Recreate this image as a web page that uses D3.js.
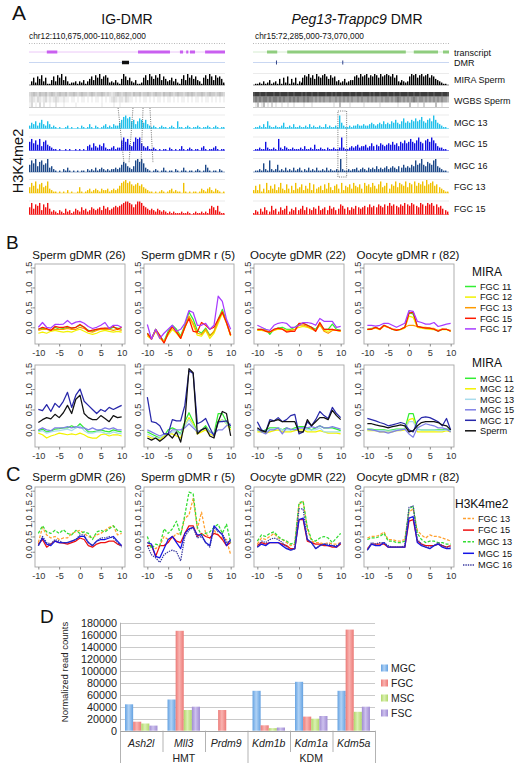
<!DOCTYPE html>
<html><head><meta charset="utf-8">
<script src="https://cdn.jsdelivr.net/npm/d3@7/dist/d3.min.js"></script>
<style>body{margin:0;background:#fff}svg{display:block}</style>
</head><body>
<svg id="c" width="522" height="769"></svg>
<script>
// ================= DATA =================
// Panel A : genome browser tracks (spans in kb, histogram heights 0-9 per bin)
const igSpanKb = 187, pegSpanKb = 785;
const igTranscripts = [[17,27],[104,134.5],[144,147],[150,152],[153.6,158.4],[168,187]];
const pegTranscripts = [[56,97],[137,612],[644,741],[761,785]];
const igDMR = [[88.7,95.4]];
const pegDMR = [[92,93.5],[357.5,359]];
const trackNames = ["MIRA Sperm","WGBS Sperm","MGC 13","MGC 15","MGC 16","FGC 13","FGC 15"];

const igMira  = "0 3 6 2 7 5 8 3 6 1 1 4 7 3 8 6 9 4 7 3 1 2 2 3 1 3 2 4 1 3 5 7 4 8 6 9 5 7 8 6 2 3 2 4 2 1 5 9 7 4 6 3 2 4 1 1 2 6 8 4 9 7 5 8 6 9 4 7 5 3 4 6 3 5 2 1 5 8 4 9 6 8 5 7 4 3 1 6 8 5 9 7 4 8 6 7 5 2";
const igMgc13 = "2 4 3 5 2 4 6 3 2 5 3 1 2 1 0 1 0 0 1 2 0 1 0 0 1 0 2 1 0 1 3 1 0 2 1 0 1 2 3 1 2 1 3 2 2 4 6 8 9 7 8 5 6 3 5 7 6 4 6 3 2 1 2 1 0 1 2 1 1 0 1 2 1 0 5 1 1 0 1 2 1 0 1 1 2 1 0 1 1 2 1 0 1 2 1 0 1 1";
const igMgc15 = "6 8 5 7 4 8 3 6 7 4 3 2 1 1 0 1 0 0 1 0 1 0 0 1 0 1 0 1 0 3 4 2 5 3 2 4 3 5 2 1 1 2 3 1 2 2 7 9 6 8 4 3 6 9 8 9 5 3 2 3 1 1 2 1 0 1 0 1 1 0 2 1 0 1 0 1 3 1 0 1 2 1 0 1 1 0 2 3 1 0 1 1 2 3 1 0 1 1";
const igMgc16 = "5 8 6 9 4 7 8 5 6 9 3 4 2 1 0 1 0 2 1 3 1 0 1 0 1 0 1 1 0 2 1 2 1 3 1 2 3 2 1 2 1 2 2 3 2 3 5 7 6 4 3 2 4 8 9 7 9 6 3 2 1 0 1 2 1 0 1 3 1 0 1 1 0 2 1 0 1 3 1 0 1 1 0 1 2 1 0 1 5 3 1 0 1 1 0 2 1 0";
const igFgc13 = "4 7 5 8 3 6 7 4 5 8 3 2 1 1 0 1 0 1 0 2 0 1 0 0 1 4 1 0 1 2 3 1 2 3 2 1 3 2 2 3 1 2 3 2 3 5 7 8 9 7 8 6 5 6 7 5 6 4 3 2 1 1 0 1 0 1 2 1 0 1 2 3 1 2 1 1 0 7 1 0 1 0 1 1 0 1 3 2 1 3 4 2 1 3 2 1 0 1";
const igFgc15 = "5 8 4 7 6 8 3 7 5 8 4 2 3 2 1 3 2 1 4 2 3 1 2 4 3 2 5 3 4 2 3 5 4 3 4 5 3 6 4 5 3 4 5 6 5 6 7 8 9 9 8 7 5 7 9 9 8 6 5 4 3 4 3 2 4 3 2 3 2 1 2 1 2 1 1 1 2 1 1 2 1 0 1 2 1 1 2 1 2 1 4 6 5 3 6 2 1 1";
const igWgbsTop = "3 4 5 4 3 5 4 4 5 3 4 5 4 3 4 5 4 4 5 3 4 4 5 4 3 4 5 4 4 3 4 5 4 3 4 4 5 4 3 4 3 2 3 4 5 4 3 4 5 4 4 3 5 4 4 5 3 4 4 5 4 3 4 5 4 4 3 5 4 4 5 4 3 4 5 4 4 3 4 5 4 5 4 3 4 4 5 4 3 4 5 4 4 3 4 5 4 3";
const igWgbsMid = "2 3 2 1 3 2 1 2 3 1 2 1 2 3 2 1 1 2 1 1 0 1 1 0 1 0 1 1 0 1 0 1 0 1 1 0 1 0 1 0 1 2 3 2 1 2 2 1 3 2 1 1 0 1 0 1 0 1 1 0 1 0 1 0 1 1 0 1 0 1 1 0 1 0 1 0 1 1 0 1 0 1 0 1 1 0 1 0 1 1 0 1 0 1 0 1 0 1";
const igWgbsLow = "1 3 0 1 0 3 0 2 0 0 1 0 0 2 0 0 0 1 0 0 0 0 0 1 0 0 0 0 0 0 0 0 0 0 0 0 1 0 0 0 0 0 1 0 0 1 0 0 0 0 0 0 0 0 0 0 0 0 0 0 0 0 0 0 0 0 0 0 0 0 0 0 0 0 0 0 0 0 0 0 0 0 0 0 0 0 0 0 0 0 0 0 0 0 0 0 0 0";

const pegMira  = "0 1 1 2 1 3 1 2 4 1 2 3 1 5 1 6 2 7 1 5 2 6 1 3 2 6 8 7 9 6 8 5 9 7 6 8 9 7 5 8 6 7 3 4 2 3 5 2 3 4 4 7 8 6 9 7 8 9 6 8 7 9 8 6 9 7 8 9 8 7 9 6 8 3 2 4 3 2 3 7 9 8 9 6 8 9 7 8 9 6 8 7 5 4 3 2 1 1 0";
const pegMgc13 = "0 1 1 2 1 3 1 5 2 1 1 2 1 1 2 4 1 1 2 1 3 1 1 2 1 1 2 1 3 1 2 1 1 2 1 1 3 1 2 1 1 2 1 9 4 2 1 1 2 1 2 2 3 2 2 3 2 2 3 4 3 2 3 4 3 5 3 4 3 5 4 6 4 3 5 7 4 5 4 6 5 7 5 6 8 5 4 6 7 5 9 6 4 3 2 1 1 0";
const pegMgc15 = "0 1 1 2 1 1 6 2 1 1 2 1 8 2 1 3 2 1 1 2 1 1 1 2 1 3 1 1 2 1 4 1 1 2 1 1 2 1 1 2 1 1 2 9 2 1 1 2 3 2 3 4 2 3 3 4 2 3 5 3 4 3 5 4 3 4 5 4 6 4 5 3 6 5 7 5 6 8 6 5 7 9 6 5 7 8 6 9 7 5 3 2 2 1 1 0";
const pegMgc16 = "0 1 1 2 1 6 2 1 8 2 1 2 5 1 2 1 3 1 2 1 3 1 2 3 1 2 1 3 1 2 1 3 1 1 2 1 3 1 2 1 1 2 1 9 2 1 1 2 1 2 2 3 1 2 3 2 1 3 2 3 2 4 2 3 2 3 4 2 3 4 3 2 4 3 5 3 4 3 5 4 8 5 6 9 5 4 7 6 5 8 9 4 3 2 1 1 0";
const pegFgc13 = "2 5 2 6 1 3 7 2 5 3 6 2 4 7 3 2 6 3 5 2 7 3 4 6 2 5 3 7 2 6 3 4 5 2 6 3 7 4 2 5 6 3 7 2 5 4 6 3 7 5 4 6 3 7 5 6 4 7 5 3 6 8 4 5 7 3 6 5 8 4 7 6 5 8 4 7 6 8 5 7 6 8 5 9 6 7 8 5 6 4 3 2 1 1";
const pegFgc15 = "1 3 2 4 2 5 3 2 6 3 4 2 5 3 4 6 2 4 3 5 3 4 6 3 5 4 3 5 4 6 3 4 5 3 6 4 5 3 4 7 6 4 5 3 5 4 6 5 4 5 6 5 7 5 6 5 7 6 5 7 6 8 6 7 6 5 7 6 8 7 6 8 7 6 5 8 7 6 8 7 8 6 7 5 6 4 3 2";
const pegWgbsTop = "8 9 9 8 9 9 8 9 9 9 8 9 9 8 9 9 9 8 9 9 8 9 9 9 8 9 8 9 9 8 9 9 8 9 9 9 8 9 9 8 9 8 9 9 8 9 9 9 8 9 9 8 9 9 8 9 9 9 8 9 8 9 9 8 9 9 9 8 9 9 8 9 9 8 9 9 9 8 9 9 8 9 9 8 9 9 9 8 9 9 8 9 9 9 8 9 9 8";
const pegWgbsMid = "5 6 5 6 5 6 6 5 6 5 6 6 5 6 5 6 5 5 6 5 6 5 6 5 5 6 5 6 5 5 4 5 4 5 4 5 4 4 5 4 4 5 4 5 4 5 4 5 4 5 4 4 5 4 5 4 4 5 4 5 4 5 4 4 5 4 5 5 4 5 4 5 6 5 4 5 4 5 4 5 6 5 4 5 5 4 5 4 5 4 5 4 5 4 5 4 4 3";
const pegWgbsLow = "0 1 3 0 1 3 0 1 0 2 0 1 0 0 1 0 0 1 0 0 1 0 0 0 0 1 0 0 0 1 0 0 0 0 0 0 0 0 0 0 1 0 0 3 0 0 0 0 1 0 0 0 0 0 0 1 0 0 0 0 0 0 0 1 0 0 0 0 0 0 0 0 1 0 0 0 0 0 3 0 0 0 1 0 0 2 0 0 0 0 0 3 0 0 1 0 0 0";
// dotted highlight annotations (kb)
const igLinks = [[85.0,90.6],[99.2,95.4],[108.8,106.9],[115.4,118.3]];
const pegBox = [340,375];

// Panels B and C : metaplots (+/- 10 kb)
const xBins = [-10,-9,-8,-7,-6,-5,-4,-3,-2,-1,0,1,2,3,4,5,6,7,8,9,10];
const xTickVals = [-10,-5,0,5,10];
const yTicksB = [0,0.5,1,1.5];
const yTicksC = [0,0.5,1,1.5,2];
const panelTitles = ["Sperm gDMR (26)","Sperm gDMR r (5)","Oocyte gDMR (22)","Oocyte gDMR r (82)"];
const miraFgcNames = ["FGC 11","FGC 12","FGC 13","FGC 15","FGC 17"];
const miraMgcNames = ["MGC 11","MGC 12","MGC 13","MGC 15","MGC 17","Sperm"];
const h3Names = ["FGC 13","FGC 15","MGC 13","MGC 15","MGC 16"];

// B top (MIRA, FGC) order: FGC11, FGC12, FGC13, FGC15, FGC17
const bFgcSperm = [
 [-0.05,-0.02,-0.05,-0.08,0.0,-0.05,-0.03,0.0,-0.02,0.0,0.05,0.0,-0.08,-0.1,-0.05,-0.05,-0.03,-0.05,0.0,-0.02,-0.05],
 [-0.15,-0.12,-0.15,-0.1,-0.08,-0.1,-0.12,-0.1,-0.12,-0.08,-0.05,-0.1,-0.15,-0.18,-0.15,-0.1,-0.08,-0.1,-0.12,-0.1,-0.12],
 [-0.08,-0.05,-0.05,-0.07,-0.05,-0.05,-0.05,-0.03,-0.05,-0.05,0.0,-0.03,-0.1,-0.12,-0.08,-0.05,-0.05,-0.05,-0.08,-0.05,-0.08],
 [-0.05,0.0,-0.03,-0.08,0.02,0.0,0.0,0.02,-0.02,0.0,0.07,0.0,-0.1,-0.07,-0.05,-0.03,-0.02,-0.02,0.02,-0.05,0.0],
 [0.0,0.12,0.0,-0.02,0.07,0.07,0.08,0.17,0.08,0.13,0.15,0.1,0.02,-0.03,0.0,0.05,0.12,-0.03,0.05,0.05,0.0]];
const bFgcSpermR = [
 [-0.15,-0.28,-0.05,-0.22,-0.35,-0.1,0.05,-0.05,-0.22,0.05,0.38,0.2,-0.08,-0.15,-0.02,-0.2,-0.12,0.2,0.45,0.15,-0.2],
 [-0.22,-0.3,-0.1,-0.28,-0.35,-0.2,-0.05,-0.15,-0.28,-0.02,0.25,0.05,-0.2,-0.22,-0.08,-0.28,-0.15,0.1,0.35,0.1,-0.22],
 [-0.18,-0.28,-0.08,-0.25,-0.38,-0.15,0.0,-0.1,-0.25,0.0,0.28,0.1,-0.15,-0.18,-0.05,-0.22,-0.1,0.15,0.4,0.12,-0.2],
 [-0.15,-0.3,-0.05,-0.2,-0.4,-0.15,0.02,-0.12,-0.28,0.0,0.22,-0.1,-0.12,0.12,0.05,-0.05,0.0,0.2,0.38,0.12,-0.2],
 [0.07,-0.3,-0.05,-0.28,-0.15,-0.05,0.05,-0.1,-0.05,0.1,0.42,0.37,0.05,0.05,0.1,-0.05,0.05,0.78,0.65,0.2,-0.05]];
const bFgcOocyte = [
 [-0.05,-0.05,-0.05,-0.18,-0.05,-0.02,0.0,-0.05,-0.05,0.0,0.08,0.1,0.05,0.0,-0.05,0.1,-0.05,-0.05,0.08,-0.05,-0.08],
 [-0.08,-0.08,-0.1,-0.12,-0.08,-0.05,-0.05,-0.08,-0.08,-0.05,0.0,0.02,0.0,-0.05,-0.08,0.05,-0.08,-0.1,-0.05,-0.08,-0.1],
 [-0.07,-0.06,-0.08,-0.12,-0.07,-0.03,-0.04,-0.1,-0.08,-0.06,0.05,0.06,0.02,-0.03,-0.1,0.08,-0.1,-0.15,-0.08,-0.08,-0.1],
 [-0.05,-0.05,-0.1,-0.12,-0.05,-0.02,-0.05,-0.12,-0.1,-0.1,0.1,0.1,0.05,0.0,-0.1,0.12,-0.05,-0.05,-0.05,-0.08,-0.08],
 [0.05,0.0,-0.05,-0.08,0.05,0.1,0.12,0.1,0.0,0.0,0.05,0.12,0.12,0.1,0.05,0.22,0.15,0.15,0.15,0.0,0.02]];
const bFgcOocyteR = [
 [-0.05,-0.03,0.0,-0.05,0.05,0.0,-0.05,-0.07,-0.05,0.0,0.38,0.33,0.02,0.0,-0.02,-0.03,-0.05,-0.1,-0.05,-0.05,-0.1],
 [-0.06,-0.05,-0.02,-0.06,0.03,0.0,-0.05,-0.08,-0.06,-0.02,0.28,0.25,0.0,-0.02,-0.04,-0.05,-0.06,-0.08,-0.06,-0.06,-0.1],
 [-0.05,-0.04,-0.01,-0.05,0.04,0.0,-0.04,-0.06,-0.05,0.0,0.05,0.05,0.02,0.0,0.0,-0.02,-0.03,-0.08,-0.04,-0.05,-0.08],
 [-0.05,-0.05,0.0,-0.05,0.05,0.0,-0.05,-0.08,-0.05,0.0,0.35,0.38,0.02,0.0,-0.02,-0.02,-0.05,-0.1,-0.05,-0.05,-0.1],
 [0.05,0.05,0.03,0.05,0.1,0.1,0.05,0.0,0.05,0.1,0.42,0.4,0.15,0.12,0.08,0.08,0.12,0.02,0.05,0.08,0.1]];

// B bottom (MIRA, MGC) order: MGC11, MGC12, MGC13, MGC15, MGC17, Sperm
const bMgcSperm = [
 [-0.02,0.02,-0.05,-0.03,0.02,0.03,0.05,0.05,0.1,0.05,0.15,0.05,-0.05,-0.05,-0.03,0.0,-0.03,-0.05,0.0,-0.03,-0.05],
 [-0.08,-0.12,-0.2,-0.15,-0.12,-0.08,-0.1,-0.12,-0.1,-0.12,-0.08,-0.12,-0.18,-0.2,-0.2,-0.12,-0.1,-0.15,-0.12,-0.12,-0.15],
 [-0.05,-0.02,-0.08,-0.05,-0.03,-0.02,0.0,0.02,-0.02,0.05,0.1,-0.02,-0.08,-0.08,-0.05,-0.05,-0.08,-0.1,-0.05,-0.08,-0.1],
 [0.0,0.05,0.0,-0.02,0.05,0.05,0.05,0.08,0.05,0.08,0.05,0.05,0.0,0.05,0.0,0.0,0.05,0.02,0.05,0.0,0.0],
 [0.5,0.47,0.62,0.45,0.65,0.55,0.7,0.92,0.55,0.85,1.0,0.7,0.6,0.5,0.4,0.5,0.45,0.55,0.5,0.55,0.6],
 [0.18,0.25,0.3,0.27,0.38,0.3,0.42,0.6,0.4,0.75,0.85,0.4,0.3,0.25,0.25,0.35,0.28,0.2,0.35,0.3,0.32]];
const bMgcSpermR = [
 [-0.05,-0.1,-0.15,-0.2,-0.15,0.0,0.05,0.0,-0.1,0.2,0.42,0.2,-0.05,0.0,0.1,-0.05,-0.1,0.4,0.4,0.2,0.05],
 [-0.15,-0.2,-0.2,-0.25,-0.15,-0.1,-0.1,-0.15,-0.2,0.1,0.3,0.15,-0.1,-0.05,0.0,-0.1,-0.15,0.2,0.25,0.15,0.0],
 [-0.1,-0.15,-0.2,-0.2,-0.12,-0.1,-0.05,-0.05,-0.12,0.1,0.25,0.1,-0.05,0.0,0.05,-0.05,-0.12,0.15,0.25,0.15,0.1],
 [0.0,-0.05,-0.1,-0.15,-0.1,-0.1,0.0,0.0,0.0,0.05,0.15,0.05,-0.05,0.0,0.05,-0.05,-0.1,0.0,0.0,0.1,0.15],
 [0.8,0.2,0.18,0.1,-0.1,-0.1,0.25,0.22,0.22,0.6,1.45,1.38,0.15,0.2,0.28,0.05,-0.15,0.2,0.2,0.22,0.1],
 [-0.2,-0.25,-0.2,-0.28,-0.2,-0.1,-0.2,-0.05,-0.3,0.2,1.5,1.4,-0.1,0.0,0.05,-0.15,-0.2,0.2,0.45,0.4,-0.15]];
const bMgcOocyte = [
 [0.0,-0.05,0.0,0.05,0.05,0.05,0.0,0.05,0.0,0.05,0.08,0.08,0.05,0.0,0.05,0.1,0.05,0.05,0.05,0.02,-0.02],
 [-0.05,-0.05,-0.08,-0.05,-0.02,0.0,-0.05,-0.05,-0.05,-0.02,0.0,0.0,-0.05,-0.05,-0.05,-0.02,-0.05,-0.08,-0.08,-0.08,-0.1],
 [0.0,-0.02,-0.05,0.02,0.02,0.05,0.0,0.0,0.0,0.02,0.05,0.05,0.0,0.0,0.0,0.05,-0.05,-0.05,-0.05,-0.05,-0.05],
 [0.02,-0.05,-0.1,0.0,0.0,0.05,-0.1,0.05,0.02,0.0,0.05,0.05,0.05,0.08,0.05,0.1,0.05,0.05,0.08,0.05,0.02],
 [0.2,0.0,-0.05,0.25,0.22,0.3,0.2,0.25,0.35,0.38,-0.1,-0.05,0.2,0.1,0.25,0.45,0.35,0.28,0.55,0.4,0.3],
 [0.05,-0.02,-0.05,0.2,0.22,0.25,0.2,0.2,0.2,0.2,-0.05,-0.05,0.25,0.1,0.2,0.3,0.3,0.25,0.48,0.35,0.25]];
const bMgcOocyteR = [
 [0.02,0.02,0.0,0.0,0.0,-0.02,0.0,0.02,0.02,0.02,0.4,0.4,0.02,0.0,0.0,0.0,0.0,0.0,0.0,0.02,0.0],
 [-0.02,-0.02,-0.02,-0.05,-0.05,-0.05,-0.05,-0.02,-0.02,0.0,0.25,0.28,-0.05,-0.05,-0.05,-0.05,-0.05,-0.05,-0.05,-0.02,-0.05],
 [0.0,0.0,-0.02,-0.02,-0.02,-0.03,-0.02,0.0,0.0,0.02,0.2,0.2,0.0,0.0,0.0,0.0,0.0,-0.02,-0.02,0.0,-0.02],
 [0.02,0.0,-0.02,-0.05,-0.05,-0.08,-0.05,-0.02,0.0,0.02,-0.1,-0.18,0.05,0.1,0.15,0.12,0.1,0.05,0.05,0.02,-0.05],
 [0.28,0.25,0.22,0.18,0.15,0.1,0.12,0.15,0.18,0.15,0.0,-0.05,0.2,0.3,0.32,0.3,0.25,0.2,0.1,0.28,0.0],
 [0.15,0.15,0.12,0.1,0.08,0.05,0.08,0.1,0.12,0.1,-0.05,-0.02,0.1,0.18,0.2,0.2,0.2,0.18,0.12,0.1,0.0]];

// C (H3K4me2) order: FGC13, FGC15, MGC13, MGC15, MGC16
const cSperm = [
 [0.3,0.8,0.55,0.45,0.5,0.4,0.45,0.45,0.6,0.65,0.7,0.6,0.5,0.45,0.55,0.6,0.7,0.8,0.85,0.55,0.6],
 [0.25,0.4,0.15,0.25,0.35,0.3,0.28,0.25,0.3,0.35,0.45,0.4,0.2,0.15,0.25,0.3,0.3,0.35,0.35,0.25,0.2],
 [0.6,0.85,0.65,0.6,0.7,0.6,0.72,0.6,0.55,0.7,0.6,0.65,0.6,0.4,0.65,0.7,0.65,0.75,0.85,0.7,0.65],
 [0.2,0.45,0.25,0.2,0.35,0.3,0.3,0.3,0.35,0.4,0.5,0.5,0.3,0.2,0.35,0.4,0.4,0.45,0.5,0.35,0.2],
 [0.2,0.5,0.3,0.25,0.4,0.35,0.3,0.3,0.35,0.4,0.55,0.55,0.3,0.2,0.35,0.45,0.45,0.5,0.45,0.3,0.15]];
const cSpermR = [
 [0.3,0.2,0.1,0.2,0.5,0.4,0.45,0.6,0.55,1.1,1.2,1.75,0.75,1.3,0.6,0.45,0.7,0.55,0.45,0.4,-0.1],
 [0.2,0.2,-0.15,0.2,0.2,0.3,0.5,0.35,0.3,0.6,0.85,0.85,0.5,0.6,0.5,0.45,0.6,0.55,0.4,0.2,0.3],
 [0.5,0.1,0.25,0.2,0.75,0.6,0.75,1.0,0.55,1.2,1.95,1.9,0.8,0.55,0.6,0.65,0.8,0.9,0.6,0.9,0.3],
 [0.3,0.25,-0.15,-0.2,0.1,0.4,0.5,0.3,0.1,0.6,0.75,0.8,0.55,0.55,0.3,0.2,0.85,0.7,0.55,0.2,0.4],
 [0.2,-0.1,-0.2,-0.35,-0.1,0.0,0.05,0.0,-0.3,0.5,0.7,0.8,0.45,0.5,0.3,0.15,0.8,0.65,0.6,0.3,0.35]];
const cOocyte = [
 [0.25,0.45,0.4,0.5,0.6,0.45,0.4,0.3,0.2,0.25,1.55,1.65,0.75,0.35,0.3,0.3,0.25,0.3,0.25,0.25,0.3],
 [0.2,0.3,0.25,0.3,0.3,0.3,0.25,0.2,0.1,0.1,1.05,1.05,0.35,0.3,0.25,0.25,0.2,0.2,0.15,0.15,0.25],
 [0.35,0.55,0.5,0.6,0.65,0.5,0.4,0.35,0.25,0.3,1.6,1.65,0.8,0.4,0.35,0.45,0.5,0.45,0.3,0.45,0.6],
 [0.15,0.25,0.2,0.3,0.3,0.3,0.2,0.1,0.05,0.1,1.05,1.1,0.4,0.3,0.1,0.2,0.25,0.2,0.2,0.15,0.3],
 [0.15,0.35,0.3,0.4,0.45,0.4,0.3,0.15,0.05,0.1,1.4,1.4,0.4,0.3,0.1,0.2,0.25,0.25,0.2,0.2,0.25]];
const cOocyteR = [
 [0.45,0.5,0.5,0.55,0.65,0.4,0.4,0.35,0.35,0.4,1.3,1.4,0.7,0.55,0.45,0.55,0.5,0.5,0.45,0.4,0.35],
 [0.1,0.25,0.25,0.25,0.25,0.15,0.15,0.15,0.15,0.15,1.0,1.05,0.35,0.25,0.2,0.2,0.2,0.25,0.2,0.15,0.2],
 [0.4,0.45,0.45,0.5,0.6,0.35,0.35,0.3,0.3,0.35,1.4,1.5,0.6,0.4,0.3,0.35,0.35,0.3,0.3,0.25,0.25],
 [0.05,0.25,0.2,0.2,0.3,0.15,0.15,0.15,0.15,0.15,1.1,1.15,0.3,0.2,0.15,0.1,0.2,0.25,0.15,0.1,0.1],
 [0.05,0.3,0.25,0.3,0.3,0.2,0.15,0.15,0.15,0.2,1.45,1.5,0.4,0.25,0.15,0.15,0.2,0.3,0.2,0.15,0.15]];

// Panel D : normalized read counts
const dGenes = ["Ash2l","Mll3","Prdm9","Kdm1b","Kdm1a","Kdm5a"];
const dFamilies = [["HMT",0,3],["KDM",3,6]];
const dSeries = ["MGC","FGC","MSC","FSC"];
const dMGC = [44000,52000,0,66500,81500,66500];
const dFGC = [15000,166500,34500,9000,23500,168500];
const dMSC = [12000,34500,0,4300,20000,31500];
const dFSC = [8500,40000,0,5300,24500,40000];
const dTicks = [0,20000,40000,60000,80000,100000,120000,140000,160000,180000];

// ================= DRAWING =================
const svg = d3.select("#c");
const FONT = '"Liberation Sans", Arial, Helvetica, sans-serif';
svg.style("font-family", FONT);
const parse = s => s.trim().split(/\s+/).map(Number);

function label(t, x, y, size, opts={}) {
  const e = svg.append("text").attr("x", x).attr("y", y).attr("font-size", size)
    .attr("fill", opts.fill || "#111").text(t);
  if (opts.anchor) e.attr("text-anchor", opts.anchor);
  if (opts.italic) e.attr("font-style", "italic");
  return e;
}

// panel letters
label("A", 12, 20, 21);
label("B", 6, 249, 19);
label("C", 6, 481, 20);
label("D", 40, 623, 19);

// ---------- Panel A ----------
const trackW = 196;
const sides = [
  {x0:29, span:igSpanKb, tx:igTranscripts, txCol:"#c95ff0", txLine:"#ecc8f8", dmr:igDMR, dmrCol:"#111", dmrH:3.5,
   tracks:[igMira, igMgc13, igMgc15, igMgc16, igFgc13, igFgc15], wgbs:[igWgbsTop, igWgbsMid, igWgbsLow], wgbsShade:0.05},
  {x0:253, span:pegSpanKb, tx:pegTranscripts, txCol:"#8fcd7e", txLine:"#d5ecd0", dmr:pegDMR, dmrCol:"#334488", dmrH:4,
   tracks:[pegMira, pegMgc13, pegMgc15, pegMgc16, pegFgc13, pegFgc15], wgbs:[pegWgbsTop, pegWgbsMid, pegWgbsLow], wgbsShade:0.085}
];
const histRows = [ // baseline, height, color
  {base:85, h:11, col:"#000"},
  {base:128.5, h:13, col:"#1fc0ea"},
  {base:150.5, h:13, col:"#1010e0"},
  {base:172, h:13, col:"#1c4888"},
  {base:193, h:13, col:"#f0c000"},
  {base:214.5, h:13, col:"#f01010"}
];
const wgbsBands = [[92,96.5],[96.5,102.5],[102.5,107]];

label("IG-DMR", 127, 23.5, 14, {anchor:"middle"});
const pt = label("", 357, 23.5, 14, {anchor:"middle"});
pt.append("tspan").attr("font-style","italic").text("Peg13-Trappc9");
pt.append("tspan").text(" DMR");
label("chr12:110,675,000-110,862,000", 29, 39, 8.3);
label("chr15:72,285,000-73,070,000", 255, 39, 8.3);

sides.forEach(sd => {
  const x = d3.scaleLinear().domain([0, sd.span]).range([sd.x0, sd.x0 + trackW]);
  const g = svg.append("g");
  // ruler
  g.append("line").attr("x1", sd.x0).attr("x2", sd.x0+trackW).attr("y1", 43.5).attr("y2", 43.5)
    .attr("stroke", "#b8b8b8").attr("stroke-width", 1).attr("stroke-dasharray", "1,1.5");
  // transcripts
  g.append("line").attr("x1", sd.x0).attr("x2", sd.x0+trackW).attr("y1", 52).attr("y2", 52)
    .attr("stroke", sd.txLine).attr("stroke-width", 1);
  g.selectAll(null).data(sd.tx).join("rect")
    .attr("x", d => x(d[0])).attr("width", d => x(d[1]) - x(d[0])).attr("y", 50.5).attr("height", 3)
    .attr("fill", sd.txCol);
  // DMR
  g.append("line").attr("x1", sd.x0).attr("x2", sd.x0+trackW).attr("y1", 62.5).attr("y2", 62.5)
    .attr("stroke", "#c9d7f2").attr("stroke-width", 1);
  g.selectAll(null).data(sd.dmr).join("rect")
    .attr("x", d => x(d[0])).attr("width", d => Math.max(1, x(d[1]) - x(d[0]))).attr("y", 62.5 - sd.dmrH/2).attr("height", sd.dmrH)
    .attr("fill", sd.dmrCol);
  // histogram tracks
  sd.tracks.forEach((s, k) => {
    const vals = parse(s), r = histRows[k];
    const bx = d3.scaleLinear().domain([0, vals.length]).range([sd.x0, sd.x0 + trackW]);
    const hy = d3.scaleLinear().domain([0, 9]).range([0, r.h]);
    g.append("line").attr("x1", sd.x0).attr("x2", sd.x0+trackW).attr("y1", r.base - r.h - 0.5).attr("y2", r.base - r.h - 0.5)
      .attr("stroke", "#e6e6e6").attr("stroke-width", 0.8);
    g.append("line").attr("x1", sd.x0).attr("x2", sd.x0+trackW).attr("y1", r.base).attr("y2", r.base)
      .attr("stroke", r.col).attr("stroke-opacity", 0.6).attr("stroke-width", 0.8);
    const bw = bx(1) - bx(0);
    g.selectAll(null).data(vals).join("rect")
      .attr("x", (d, i) => Math.round(bx(i))).attr("width", 1.4)
      .attr("y", d => r.base - hy(d)).attr("height", d => hy(d))
      .attr("fill", r.col);
  });
  // WGBS
  g.append("line").attr("x1", sd.x0).attr("x2", sd.x0+trackW).attr("y1", 107.5).attr("y2", 107.5)
    .attr("stroke", "#bbb").attr("stroke-width", 0.8);
  sd.wgbs.forEach((s, k) => {
    const vals = parse(s);
    const bx = d3.scaleLinear().domain([0, vals.length]).range([sd.x0, sd.x0 + trackW]);
    g.selectAll(null).data(vals).join("rect")
      .attr("x", (d, i) => bx(i)).attr("width", bx(1) - bx(0))
      .attr("y", wgbsBands[k][0]).attr("height", wgbsBands[k][1] - wgbsBands[k][0])
      .attr("fill", "#000").attr("fill-opacity", d => d * sd.wgbsShade);
  });
  sd.xs = x;
});
// highlight annotations
{
  const xl = sides[0].xs, xr = sides[1].xs;
  svg.selectAll(null).data(igLinks).join("line")
    .attr("x1", d => xl(d[0])).attr("x2", d => xl(d[1])).attr("y1", 108).attr("y2", 163)
    .attr("stroke", "#555").attr("stroke-width", 0.8).attr("stroke-dasharray", "1,1.2");
  svg.append("rect").attr("x", xr(pegBox[0])).attr("width", xr(pegBox[1]) - xr(pegBox[0]))
    .attr("y", 111).attr("height", 66).attr("fill", "none")
    .attr("stroke", "#555").attr("stroke-width", 0.8).attr("stroke-dasharray", "1,1.2");
}
// track labels
const trackLabelY = [82.5, 103.5, 125.5, 147, 168.5, 190, 211.5];
label("transcript", 454, 55.5, 9);
label("DMR", 454, 66, 9);
trackNames.forEach((t, i) => label(t, 454, trackLabelY[i], 9));
svg.append("text").attr("transform", "translate(23,161) rotate(-90)").attr("text-anchor", "middle")
  .attr("font-size", 14.5).attr("fill", "#111").text("H3K4me2");

// ---------- Panels B, C ----------
const boxX = [35, 144, 254, 364], boxW = 90;
const fgcStyles = [{c:"#33ee33"},{c:"#f2f200"},{c:"#ff9a00"},{c:"#ff1a00"},{c:"#a83cff"}];
const mgcStyles = [{c:"#33ee33"},{c:"#f2f200"},{c:"#a8dcec"},{c:"#8080e6"},{c:"#2828aa"},{c:"#111111"}];
const h3Styles = [{c:"#ffa030",d:"3,1.6"},{c:"#ee1010"},{c:"#33dd33",d:"3,1.6"},{c:"#1414e6"},{c:"#3a3aa0",d:"1.4,1"}];

function metaPanel(px, py, ph, yDom, yTicks, data, styles) {
  const x = d3.scaleLinear().domain([-10.8, 10.8]).range([px, px + boxW]);
  const y = d3.scaleLinear().domain(yDom).range([py + ph, py]);
  const g = svg.append("g");
  const line = d3.line().x((d, i) => x(xBins[i])).y(d => y(d));
  data.forEach((s, k) => g.append("path").attr("d", line(s)).attr("fill", "none")
    .attr("stroke", styles[k].c).attr("stroke-width", 1.25)
    .attr("stroke-dasharray", styles[k].d || null).attr("stroke-linejoin", "round"));
  g.append("rect").attr("x", px).attr("y", py).attr("width", boxW).attr("height", ph)
    .attr("fill", "none").attr("stroke", "#a6a6a6").attr("stroke-width", 0.9);
  const xa = g.append("g").attr("transform", `translate(0,${py + ph})`)
    .call(d3.axisBottom(x).tickValues(xTickVals).tickSize(2.5).tickPadding(2.5).tickFormat(d => String(d)));
  xa.select(".domain").remove();
  xa.selectAll("line").attr("stroke", "#888");
  xa.selectAll("text").attr("font-size", 9.2).attr("fill", "#333").attr("font-family", FONT);
  const ya = g.append("g").attr("transform", `translate(${px},0)`)
    .call(d3.axisLeft(y).tickValues(yTicks).tickSize(2.5).tickFormat(d3.format(".1f")));
  ya.select(".domain").remove();
  ya.selectAll("line").attr("stroke", "#888");
  ya.selectAll("text").attr("font-size", 9.2).attr("fill", "#333").attr("font-family", FONT)
    .attr("x", 0).attr("dy", 0).attr("text-anchor", "middle")
    .attr("transform", "translate(-3.5,0) rotate(-90)");
}

function legend(x, titleX, titleY, title, titleSize, names, styles, y0, step) {
  label(title, titleX, titleY, titleSize);
  names.forEach((n, i) => {
    const yy = y0 + i * step;
    svg.append("line").attr("x1", x).attr("x2", x + 11).attr("y1", yy).attr("y2", yy)
      .attr("stroke", styles[i].c).attr("stroke-width", 1.5).attr("stroke-dasharray", styles[i].d || null);
    label(n, x + 15, yy + 3.2, 9.2);
  });
}

const bTopData = [bFgcSperm, bFgcSpermR, bFgcOocyte, bFgcOocyteR];
const bBotData = [bMgcSperm, bMgcSpermR, bMgcOocyte, bMgcOocyteR];
const cData = [cSperm, cSpermR, cOocyte, cOocyteR];
panelTitles.forEach((t, i) => {
  label(t, boxX[i] + boxW/2 - 1, 259, 11.5, {anchor:"middle"});
  label(t, boxX[i] + boxW/2 - 1, 481, 11.5, {anchor:"middle"});
  metaPanel(boxX[i], 264, 80, [-0.42, 1.59], yTicksB, bTopData[i], fgcStyles);
  metaPanel(boxX[i], 365, 82, [-0.42, 1.59], yTicksB, bBotData[i], mgcStyles);
  metaPanel(boxX[i], 487, 80, [-0.5, 2.12], yTicksC, cData[i], h3Styles);
});
legend(465, 472, 276, "MIRA", 12, miraFgcNames, fgcStyles, 286.5, 10.6);
legend(465, 472, 367, "MIRA", 12, miraMgcNames, mgcStyles, 378.3, 10.5);
legend(463, 455, 507.5, "H3K4me2", 12, h3Names, h3Styles, 518.5, 11.6);

// ---------- Panel D ----------
{
  const x0 = 120, x1 = 375, yTop = 622.7, yBot = 730.7;
  const x = d3.scaleBand().domain(dGenes).range([x0, x1]);
  const xs = d3.scaleBand().domain(dSeries).range([0, x.bandwidth()]).paddingOuter(0.62);
  const y = d3.scaleLinear().domain([0, 180000]).range([yBot, yTop]);
  const colors = {MGC:["#64a2e2","#b0d2f5"], FGC:["#ec7a77","#f9b3b0"], MSC:["#b0d86a","#daf0b2"], FSC:["#a08cd2","#cdc1ee"]};
  const defs = svg.append("defs");
  dSeries.forEach(s => {
    const gr = defs.append("linearGradient").attr("id", "g" + s).attr("x1", 0).attr("x2", 1).attr("y1", 0).attr("y2", 0);
    gr.append("stop").attr("offset", "0%").attr("stop-color", colors[s][0]);
    gr.append("stop").attr("offset", "45%").attr("stop-color", colors[s][1]);
    gr.append("stop").attr("offset", "100%").attr("stop-color", colors[s][0]);
  });
  const g = svg.append("g");
  g.selectAll(null).data(dTicks).join("line")
    .attr("x1", x0).attr("x2", x1).attr("y1", d => Math.round(y(d)) + 0.5).attr("y2", d => Math.round(y(d)) + 0.5)
    .attr("stroke", d => d === 0 ? "#999" : "#c4c4c4").attr("stroke-width", 0.9);
  g.append("line").attr("x1", x0 + 0.5).attr("x2", x0 + 0.5).attr("y1", yTop).attr("y2", yBot)
    .attr("stroke", "#aaa").attr("stroke-width", 0.9);
  g.selectAll(null).data(dTicks).join("text")
    .attr("x", x0 - 3).attr("y", d => y(d) + 3.8).attr("text-anchor", "end")
    .attr("font-size", 10.8).attr("fill", "#222").text(d => d);
  const seriesVals = {MGC:dMGC, FGC:dFGC, MSC:dMSC, FSC:dFSC};
  dSeries.forEach(s => {
    g.selectAll(null).data(dGenes).join("rect")
      .attr("x", d => x(d) + xs(s)).attr("width", xs.bandwidth())
      .attr("y", (d, i) => y(seriesVals[s][i])).attr("height", (d, i) => yBot - y(seriesVals[s][i]))
      .attr("fill", `url(#g${s})`);
  });
  // category separators
  const seps = dGenes.map(d => x(d)).concat([x1]);
  g.selectAll(null).data(seps).join("line")
    .attr("x1", d => d + 0.5).attr("x2", d => d + 0.5).attr("y1", yBot)
    .attr("y2", (d, i) => (i % 3 === 0) ? 763 : 752)
    .attr("stroke", "#aaa").attr("stroke-width", 0.9);
  g.selectAll(null).data(dGenes).join("text")
    .attr("x", d => x(d) + x.bandwidth()/2).attr("y", 746.5).attr("text-anchor", "middle")
    .attr("font-size", 10.5).attr("font-style", "italic").attr("fill", "#222").text(d => d);
  g.selectAll(null).data(dFamilies).join("text")
    .attr("x", d => (x(dGenes[d[1]]) + (d[2] < dGenes.length ? x(dGenes[d[2]]) : x1)) / 2)
    .attr("y", 762).attr("text-anchor", "middle").attr("font-size", 10.5).attr("fill", "#222").text(d => d[0]);
  svg.append("text").attr("transform", "translate(68,672) rotate(-90)").attr("text-anchor", "middle")
    .attr("font-size", 9.5).attr("fill", "#222").text("Normalized read counts");
  dSeries.forEach((s, i) => {
    const yy = 668 + i * 15;
    svg.append("rect").attr("x", 381).attr("y", yy - 3.5).attr("width", 7).attr("height", 7).attr("fill", `url(#g${s})`);
    label(s, 391, yy + 3.8, 10.5, {fill:"#222"});
  });
}
</script>
</body></html>
